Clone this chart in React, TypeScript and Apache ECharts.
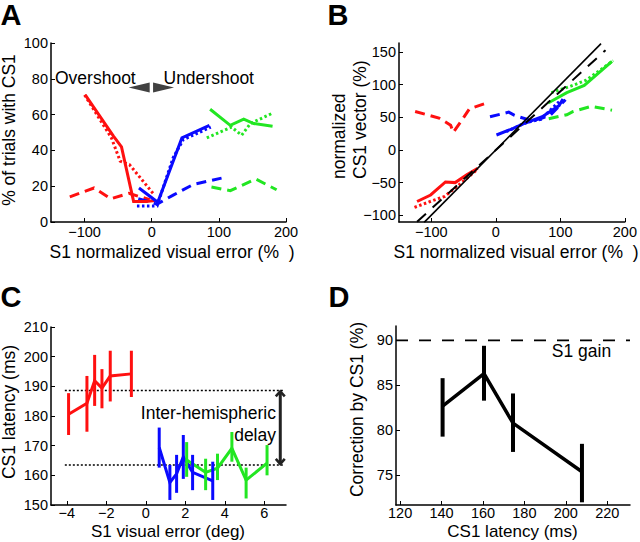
import React, { useEffect, useRef } from "react";
import * as echarts from "echarts";

const FONT = "'Liberation Sans', Arial, Helvetica, sans-serif";
const RED = "#ff1010";
const BLUE = "#0a0aff";
const GREEN = "#22e622";

// ---------- Panel A: % of trials with CS1 vs S1 normalized visual error ----------
const aRedSolid = [[-99, 71], [-57, 48], [-45, 42], [-27, 11.5], [-8, 11.5], [5, 12]];
const aRedDotted = [[-100, 71], [-60, 47], [-47, 34], [-33, 32], [2, 16]];
const aRedDashed = [[-122, 14], [-86, 19], [-61, 13], [-34, 16], [-3, 12.5]];
const aBlueSolid = [[-19, 19], [9, 11], [45, 47], [86, 54]];
const aBlueDotted = [[-22, 9], [8, 9], [32, 36], [47, 46], [88, 53]];
const aBlueDashed = [[-20, 13], [8, 10], [32, 15], [62, 21], [104, 24.5]];
const aGreenSolid = [[87, 63], [117, 54], [137, 57.5], [152, 55], [180, 53.5]];
const aGreenDotted = [[82, 47], [119, 53], [134, 48.5], [147, 55], [181, 61]];
const aGreenDashed = [[89, 19.5], [117, 17.5], [155, 24], [186, 18]];
const aArrowLeft = [[-18.7, 75.1]];
const aArrowRight = [[17.6, 75.1]];
const aXTicks = [-100, 0, 100, 200];
const aYTicks = [0, 20, 40, 60, 80, 100];

// ---------- Panel B: normalized CS1 vector vs S1 normalized visual error ----------
const bIdentity = [[-111, -111], [163, 163]];
const bGainLine = [[-122, -110], [170, 153]];
const bRedSolid = [[-122, -79], [-101, -69], [-78, -49], [-63, -50], [-45, -38], [-28, -28]];
const bRedDotted = [[-126, -88], [-99, -78], [-79, -71], [-59, -55], [-30, -31]];
const bRedDashed = [[-125, 59], [-88, 49], [-70, 38], [-66, 27], [-51, 48], [-41, 63], [-14, 72]];
const bBlueSolid = [[1, 23], [27, 33], [45, 41], [72, 51], [98, 68], [104, 78]];
const bBlueDotted = [[16, 28], [47, 42], [70, 47], [98, 74]];
const bBlueDashed = [[-9, 51], [20, 58], [29, 53], [55, 45], [70, 48], [85, 54], [100, 69], [108, 77]];
const bGreenSolid = [[81, 72], [110, 88], [137, 99], [180, 136]];
const bGreenDotted = [[86, 88], [114, 97], [140, 107], [182, 137]];
const bGreenDashed = [[82, 48], [110, 54], [120, 59], [148, 67], [180, 61]];
const bXTicks = [-100, 0, 100, 200];
const bYTicks = [-100, -50, 0, 50, 100, 150];

// ---------- Panel C: CS1 latency vs S1 visual error ----------
const cRedX = [-3.91, -2.98, -2.59, -2.22, -1.8, -0.73];
const cRedY = [180.6, 184.3, 191.9, 189.4, 193.5, 194.2];
const cRedLo = [173.6, 174.7, 183.4, 182.6, 184.9, 186.4];
const cRedHi = [187.7, 193.5, 200.6, 195.8, 202, 202];
const cBlueX = [0.68, 1.22, 1.56, 1.9, 2.37, 3.39];
const cBlueY = [169.4, 157.6, 160.5, 166.2, 161, 158.1];
const cBlueLo = [162.6, 151.7, 154.1, 158.8, 155, 151.7];
const cBlueHi = [176.1, 163.5, 166.9, 173.6, 166.9, 164.6];
const cGreenX = [2.07, 3.03, 3.63, 4.36, 5.08, 6.14];
const cGreenY = [165.2, 161.0, 162.4, 169.1, 158.4, 164.1];
const cGreenLo = [159.5, 155.0, 158.4, 164.6, 152.2, 160.0];
const cGreenHi = [171.2, 165.6, 167.3, 174.6, 162.6, 170.2];
const cLevels = [188.6, 163.5];
const cLevelRange = [-4.1, 7.0];
const cDelayArrow = [[6.81, 188.6, 163.5]];
const cXTicks = [-4, -2, 0, 2, 4, 6];
const cYTicks = [150, 160, 170, 180, 190, 200, 210];

// ---------- Panel D: correction by CS1 vs CS1 latency ----------
const dX = [140.5, 160.5, 174.5, 207.8];
const dY = [82.7, 86.3, 80.8, 75.4];
const dLo = [79.3, 83.3, 77.6, 72.0];
const dHi = [85.8, 89.4, 84.1, 78.5];
const dGain = 90;
const dXTicks = [120, 140, 160, 180, 200, 220];
const dYTicks = [75, 80, 85, 90];

const minus = (v: number) => String(v).replace("-", "\u2212");

function axis(gridIndex: number, min: number, max: number, ticks: number[], margin: number) {
  return {
    type: "value",
    gridIndex,
    min,
    max,
    axisLine: { show: true, onZero: false, lineStyle: { color: "#000", width: 1.5 } },
    axisTick: {
      show: true,
      inside: true,
      length: 4,
      customValues: ticks,
      lineStyle: { color: "#000", width: 1 },
    },
    axisLabel: {
      customValues: ticks,
      color: "#000",
      fontSize: 14.5,
      lineHeight: 12,
      fontFamily: FONT,
      margin,
      formatter: (v: number) => minus(v),
    },
    splitLine: { show: false },
  };
}

function lineS(idx: number, data: number[][], color: string, type: any, width = 3, z = 3) {
  return {
    type: "line",
    xAxisIndex: idx,
    yAxisIndex: idx,
    data,
    symbol: "none",
    showSymbol: false,
    silent: true,
    z,
    lineStyle: { color, width, type, cap: "butt", join: "miter" },
  };
}

const zip = (...arrs: number[][]) => arrs[0].map((_, i) => arrs.map((a) => a[i]));

function errBars(idx: number, x: number[], lo: number[], hi: number[], color: string, width: number) {
  return {
    type: "custom",
    xAxisIndex: idx,
    yAxisIndex: idx,
    silent: true,
    z: 4,
    data: zip(x, lo, hi),
    renderItem: (_p: any, api: any) => {
      const a = api.coord([api.value(0), api.value(1)]);
      const b = api.coord([api.value(0), api.value(2)]);
      return {
        type: "line",
        shape: { x1: a[0], y1: a[1], x2: b[0], y2: b[1] },
        style: { stroke: color, lineWidth: width },
      };
    },
  };
}

const txt = (text: string, x: number, y: number, opts: any = {}) => ({
  type: "text",
  x,
  y,
  rotation: opts.rotation || 0,
  silent: true,
  style: {
    text,
    fill: "#000",
    fontSize: opts.fontSize || 17.5,
    lineHeight: opts.lineHeight || 16,
    fontWeight: opts.fontWeight || "normal",
    fontFamily: FONT,
    textAlign: opts.align || "center",
    textVerticalAlign: "middle",
  },
});

export default function App() {
  const ref = useRef<HTMLDivElement>(null);
  useEffect(() => {
    if (!ref.current) return;
    const chart = echarts.init(ref.current, null, { renderer: "svg" });
    const option: any = {
      animation: false,
      backgroundColor: "#fff",
      grid: [
        { left: 51, top: 43, width: 235, height: 179 },
        { left: 399, top: 43, width: 227, height: 179 },
        { left: 51, top: 327, width: 235, height: 178 },
        { left: 396, top: 326, width: 234, height: 179 },
      ],
      xAxis: [
        axis(0, -150, 200, aXTicks, 4),
        axis(1, -150, 200, bXTicks, 4),
        axis(2, -4.8, 7.1, cXTicks, 2),
        axis(3, 118, 231, dXTicks, 2),
      ],
      yAxis: [
        axis(0, 0, 100, aYTicks, 3),
        axis(1, -110.4, 164, bYTicks, 3),
        axis(2, 150, 210, cYTicks, 3),
        axis(3, 71.7, 91.6, dYTicks, 3),
      ],
      series: [
        // Panel A
        lineS(0, aRedDashed, RED, [10, 6]),
        lineS(0, aBlueDashed, BLUE, [10, 6]),
        lineS(0, aGreenDashed, GREEN, [10, 6]),
        lineS(0, aRedDotted, RED, [2.5, 2.5]),
        lineS(0, aBlueDotted, BLUE, [2.5, 2.5]),
        lineS(0, aGreenDotted, GREEN, [2.5, 2.5]),
        lineS(0, aRedSolid, RED, "solid"),
        lineS(0, aBlueSolid, BLUE, "solid"),
        lineS(0, aGreenSolid, GREEN, "solid"),
        {
          type: "scatter",
          xAxisIndex: 0,
          yAxisIndex: 0,
          data: aArrowLeft,
          symbol: "triangle",
          symbolSize: [10, 21],
          symbolRotate: 90,
          itemStyle: { color: "#111" },
          silent: true,
        },
        {
          type: "scatter",
          xAxisIndex: 0,
          yAxisIndex: 0,
          data: aArrowRight,
          symbol: "triangle",
          symbolSize: [10, 21],
          symbolRotate: -90,
          itemStyle: { color: "#111" },
          silent: true,
        },
        // Panel B
        lineS(1, bIdentity, "#000", "solid", 1.6, 5),
        lineS(1, bGainLine, "#000", [12, 9], 2, 5),
        lineS(1, bRedDashed, RED, [10, 6]),
        lineS(1, bBlueDashed, BLUE, [10, 6]),
        lineS(1, bGreenDashed, GREEN, [10, 6]),
        lineS(1, bRedDotted, RED, [2.5, 2.5]),
        lineS(1, bBlueDotted, BLUE, [2.5, 2.5]),
        lineS(1, bGreenDotted, GREEN, [2.5, 2.5]),
        lineS(1, bRedSolid, RED, "solid"),
        lineS(1, bBlueSolid, BLUE, "solid"),
        lineS(1, bGreenSolid, GREEN, "solid"),
        // Panel C
        lineS(2, cLevelRange.map((x) => [x, cLevels[0]]), "#000", [2, 2], 1.5, 2),
        lineS(2, cLevelRange.map((x) => [x, cLevels[1]]), "#000", [2, 2], 1.5, 2),
        lineS(2, zip(cRedX, cRedY), RED, "solid", 3),
        errBars(2, cRedX, cRedLo, cRedHi, RED, 3),
        lineS(2, zip(cBlueX, cBlueY), BLUE, "solid", 3),
        errBars(2, cBlueX, cBlueLo, cBlueHi, BLUE, 3),
        lineS(2, zip(cGreenX, cGreenY), GREEN, "solid", 3),
        errBars(2, cGreenX, cGreenLo, cGreenHi, GREEN, 3),
        {
          type: "custom",
          xAxisIndex: 2,
          yAxisIndex: 2,
          silent: true,
          z: 6,
          data: cDelayArrow,
          renderItem: (_p: any, api: any) => {
            const a = api.coord([api.value(0), api.value(1)]);
            const b = api.coord([api.value(0), api.value(2)]);
            const w = 4.5;
            const h = 6;
            const st = { stroke: "#222", lineWidth: 2.6, fill: null };
            return {
              type: "group",
              children: [
                { type: "line", shape: { x1: a[0], y1: a[1] + 1, x2: b[0], y2: b[1] - 1 }, style: { stroke: "#222", lineWidth: 3 } },
                { type: "polyline", shape: { points: [[a[0] - w, a[1] + h], [a[0], a[1] + 1], [a[0] + w, a[1] + h]] }, style: st },
                { type: "polyline", shape: { points: [[b[0] - w, b[1] - h], [b[0], b[1] - 1], [b[0] + w, b[1] - h]] }, style: st },
              ],
            };
          },
        },
        // Panel D
        lineS(3, [[118, dGain], [231, dGain]], "#000", [12, 11], 1.8, 2),
        lineS(3, zip(dX, dY), "#000", "solid", 3.5),
        errBars(3, dX, dLo, dHi, "#000", 4),
      ],
      graphic: [
        // panel letters
        txt("A", 11, 15, { fontSize: 29, fontWeight: "bold", lineHeight: 26 }),
        txt("B", 338, 15, { fontSize: 29, fontWeight: "bold", lineHeight: 26 }),
        txt("C", 11, 297, { fontSize: 29, fontWeight: "bold", lineHeight: 26 }),
        txt("D", 339, 297, { fontSize: 29, fontWeight: "bold", lineHeight: 26 }),
        // axis titles
        txt("S1 normalized visual error (%  )", 172, 252),
        txt("S1 normalized visual error (%  )", 516, 252),
        txt("S1 visual error (deg)", 168, 531.5, { fontSize: 17 }),
        txt("CS1 latency (ms)", 512.5, 531, { fontSize: 17 }),
        txt("% of trials with CS1", 9, 130, { rotation: Math.PI / 2 }),
        txt("normalized", 339, 179, { rotation: Math.PI / 2, align: "left" }),
        txt("CS1 vector (%)", 360, 179, { rotation: Math.PI / 2, align: "left" }),
        txt("CS1 latency (ms)", 9, 412, { rotation: Math.PI / 2 }),
        txt("Correction by CS1 (%)", 357, 409.5, { rotation: Math.PI / 2 }),
        // annotations
        txt("Overshoot", 55, 77.5, { align: "left" }),
        txt("Undershoot", 163.5, 77.5, { align: "left" }),
        txt("Inter-hemispheric", 276, 413, { align: "right" }),
        txt("delay", 276, 434.5, { align: "right" }),
        txt("S1 gain", 581.5, 351),
      ],
    };
    chart.setOption(option);
    return () => chart.dispose();
  }, []);
  return (
    <div
      ref={ref}
      style={{ position: "fixed", left: 0, top: 0, width: 640, height: 542, background: "#fff" }}
    />
  );
}
